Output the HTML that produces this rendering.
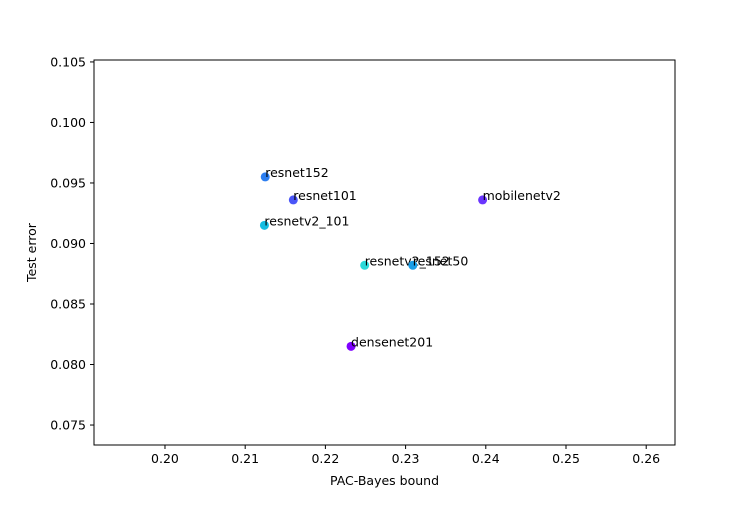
<!DOCTYPE html>
<html><head><meta charset="utf-8"><style>
html,body{margin:0;padding:0;background:#fff;}
svg text{font-family:"DejaVu Sans","Liberation Sans",sans-serif;font-size:12.5px;fill:#000;}
</style></head><body>
<svg id="chart" width="750" height="500"></svg>
<script>
const names=["resnet152","resnet101","resnetv2_101","resnetv2_152","resnet50","densenet201","mobilenetv2"];
const xVals=[0.2125,0.2160,0.2124,0.2249,0.2309,0.2232,0.2396];
const yVals=[0.0955,0.0936,0.0915,0.0882,0.0882,0.0815,0.0936];
const colors=["#2c7ef0","#4a55f8","#13bde2","#2cd9d9","#1a9de6","#7f00ff","#6a35fe"];
const xTicks=[0.20,0.21,0.22,0.23,0.24,0.25,0.26];
const yTicks=[0.075,0.080,0.085,0.090,0.095,0.100,0.105];
const L=94,R=675,T=60,B=445;
const xMin=0.19115,xMax=0.26359,yMin=0.07335,yMax=0.10516;
const sx=v=>L+(v-xMin)/(xMax-xMin)*(R-L);
const sy=v=>B-(v-yMin)/(yMax-yMin)*(B-T);
const svg=document.getElementById('chart');
const NS="http://www.w3.org/2000/svg";
function mk(t,a,p){const e=document.createElementNS(NS,t);for(const k in a)e.setAttribute(k,a[k]);(p||svg).appendChild(e);return e;}
const frame=mk('rect',{x:L,y:T,width:R-L,height:B-T,fill:'none',stroke:'#000','stroke-width':1});


xTicks.forEach(v=>{const x=sx(v);
 const l=mk('line',{x1:x,x2:x,y1:B,y2:B+4,stroke:'#000'});
 
 
 const t=mk('text',{x:x,y:B+18,'text-anchor':'middle'});t.textContent=v.toFixed(2);
 
 });
yTicks.forEach(v=>{const y=sy(v);
 const l=mk('line',{x1:L-4,x2:L,y1:y,y2:y,stroke:'#000'});
 
 
 const t=mk('text',{x:L-8,y:y+4.5,'text-anchor':'end'});t.textContent=v.toFixed(3);
 
 });
const xt=mk('text',{x:(L+R)/2,y:485,'text-anchor':'middle'});xt.textContent="PAC-Bayes bound";


const yt=mk('text',{x:36,y:(T+B)/2,'text-anchor':'middle',transform:`rotate(-90 36 ${(T+B)/2})`});yt.textContent="Test error";


names.forEach((n,i)=>{const x=sx(xVals[i]),y=sy(yVals[i]);
 const c=mk('circle',{cx:x,cy:y,r:4.5,fill:colors[i]});
 
 
 const t=mk('text',{x:x,y:y});t.textContent=n;
 
 });
</script>
</body></html>
